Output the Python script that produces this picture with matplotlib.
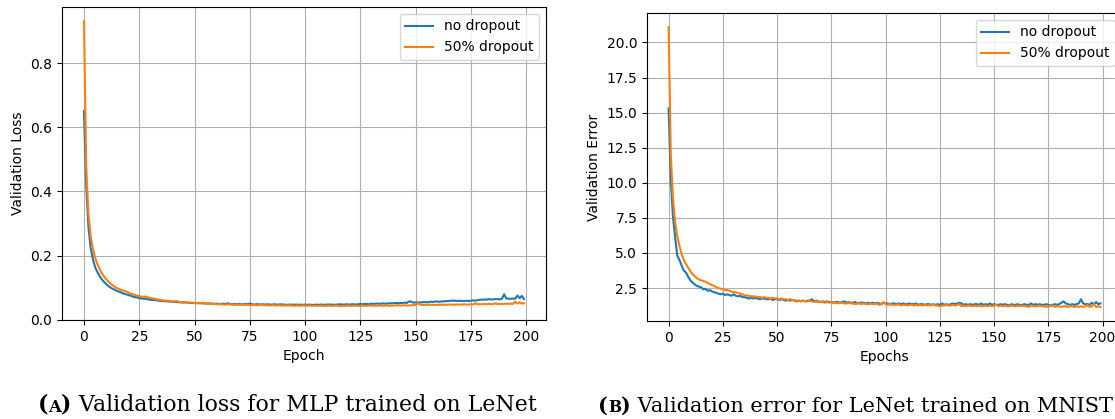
import matplotlib.pyplot as plt
from matplotlib.ticker import MultipleLocator
import numpy as np

# validation loss, MLP (left panel)
loss_plain = [
    0.650, 0.420, 0.290, 0.225, 0.190, 0.165, 0.150, 0.137, 0.127, 0.119,
    0.112, 0.106, 0.101, 0.097, 0.094, 0.090, 0.088, 0.085, 0.082, 0.080,
    0.078, 0.076, 0.073, 0.071, 0.070, 0.068, 0.067, 0.066, 0.066, 0.064,
    0.063, 0.062, 0.062, 0.061, 0.060, 0.059, 0.059, 0.058, 0.058, 0.057,
    0.057, 0.056, 0.056, 0.055, 0.055, 0.054, 0.055, 0.054, 0.053, 0.053,
    0.053, 0.052, 0.053, 0.052, 0.052, 0.051, 0.052, 0.051, 0.051, 0.050,
    0.051, 0.050, 0.050, 0.051, 0.050, 0.052, 0.050, 0.049, 0.050, 0.049,
    0.050, 0.049, 0.049, 0.050, 0.049, 0.051, 0.049, 0.048, 0.049, 0.049,
    0.048, 0.049, 0.048, 0.049, 0.048, 0.048, 0.049, 0.048, 0.048, 0.049,
    0.048, 0.048, 0.047, 0.048, 0.048, 0.047, 0.048, 0.047, 0.048, 0.047,
    0.048, 0.047, 0.048, 0.047, 0.047, 0.048, 0.047, 0.048, 0.048, 0.047,
    0.048, 0.048, 0.048, 0.047, 0.048, 0.048, 0.049, 0.048, 0.048, 0.049,
    0.048, 0.049, 0.049, 0.048, 0.049, 0.050, 0.049, 0.050, 0.050, 0.049,
    0.051, 0.050, 0.051, 0.051, 0.050, 0.052, 0.051, 0.051, 0.052, 0.052,
    0.052, 0.053, 0.052, 0.053, 0.053, 0.054, 0.053, 0.058, 0.057, 0.054,
    0.055, 0.054, 0.055, 0.055, 0.056, 0.055, 0.056, 0.057, 0.056, 0.058,
    0.057, 0.057, 0.058, 0.058, 0.059, 0.059, 0.060, 0.060, 0.060, 0.059,
    0.060, 0.059, 0.059, 0.060, 0.059, 0.060, 0.061, 0.060, 0.062, 0.063,
    0.063, 0.064, 0.063, 0.065, 0.064, 0.064, 0.065, 0.065, 0.064, 0.066,
    0.080, 0.067, 0.066, 0.066, 0.067, 0.066, 0.076, 0.068, 0.075, 0.065,
]
loss_dropout = [
    0.930, 0.480, 0.330, 0.262, 0.222, 0.195, 0.175, 0.160, 0.146, 0.136,
    0.127, 0.120, 0.113, 0.108, 0.103, 0.099, 0.096, 0.093, 0.091, 0.089,
    0.086, 0.082, 0.080, 0.078, 0.076, 0.074, 0.073, 0.072, 0.073, 0.070,
    0.069, 0.067, 0.066, 0.064, 0.063, 0.062, 0.061, 0.060, 0.060, 0.059,
    0.058, 0.058, 0.059, 0.056, 0.056, 0.055, 0.055, 0.054, 0.054, 0.054,
    0.053, 0.053, 0.052, 0.052, 0.054, 0.051, 0.051, 0.050, 0.050, 0.050,
    0.049, 0.049, 0.049, 0.048, 0.048, 0.049, 0.048, 0.048, 0.047, 0.048,
    0.047, 0.047, 0.048, 0.047, 0.047, 0.046, 0.046, 0.047, 0.046, 0.046,
    0.048, 0.046, 0.046, 0.046, 0.045, 0.046, 0.046, 0.045, 0.046, 0.045,
    0.045, 0.045, 0.046, 0.045, 0.045, 0.044, 0.045, 0.045, 0.044, 0.045,
    0.045, 0.044, 0.045, 0.044, 0.045, 0.044, 0.044, 0.045, 0.044, 0.044,
    0.044, 0.045, 0.044, 0.044, 0.045, 0.044, 0.043, 0.044, 0.044, 0.045,
    0.044, 0.044, 0.045, 0.044, 0.044, 0.044, 0.045, 0.044, 0.044, 0.045,
    0.044, 0.045, 0.044, 0.045, 0.045, 0.044, 0.045, 0.045, 0.044, 0.045,
    0.045, 0.045, 0.046, 0.045, 0.045, 0.046, 0.045, 0.045, 0.046, 0.046,
    0.047, 0.052, 0.048, 0.047, 0.047, 0.047, 0.048, 0.047, 0.047, 0.047,
    0.047, 0.048, 0.047, 0.048, 0.047, 0.048, 0.048, 0.047, 0.048, 0.048,
    0.048, 0.048, 0.049, 0.048, 0.048, 0.049, 0.048, 0.052, 0.049, 0.049,
    0.049, 0.050, 0.049, 0.050, 0.050, 0.049, 0.052, 0.050, 0.050, 0.050,
    0.050, 0.051, 0.050, 0.051, 0.050, 0.057, 0.051, 0.055, 0.051, 0.052,
]

# validation error (%), LeNet on MNIST (right panel)
err_plain = [
    15.3, 10.2, 7.6, 6.1, 4.8, 4.5, 4.1, 3.75, 3.6, 3.3,
    3.05, 2.9, 2.75, 2.65, 2.6, 2.55, 2.4, 2.45, 2.3, 2.35,
    2.25, 2.2, 2.15, 2.1, 2.05, 2.1, 2.0, 2.05, 2.0, 1.95,
    2.05, 1.95, 1.9, 1.95, 1.85, 1.85, 1.8, 1.75, 1.8, 1.75,
    1.8, 1.75, 1.7, 1.75, 1.75, 1.7, 1.7, 1.75, 1.65, 1.7,
    1.7, 1.65, 1.7, 1.65, 1.6, 1.65, 1.6, 1.65, 1.6, 1.55,
    1.6, 1.55, 1.6, 1.55, 1.6, 1.6, 1.7, 1.55, 1.6, 1.55,
    1.5, 1.55, 1.5, 1.55, 1.5, 1.5, 1.45, 1.5, 1.5, 1.45,
    1.5, 1.55, 1.45, 1.5, 1.45, 1.45, 1.5, 1.4, 1.45, 1.45,
    1.45, 1.4, 1.45, 1.4, 1.45, 1.4, 1.45, 1.4, 1.35, 1.45,
    1.4, 1.4, 1.35, 1.4, 1.4, 1.35, 1.4, 1.35, 1.4, 1.35,
    1.35, 1.4, 1.35, 1.35, 1.4, 1.3, 1.35, 1.35, 1.3, 1.35,
    1.35, 1.3, 1.35, 1.3, 1.35, 1.3, 1.4, 1.3, 1.35, 1.3,
    1.35, 1.4, 1.35, 1.4, 1.45, 1.4, 1.3, 1.35, 1.3, 1.35,
    1.3, 1.35, 1.35, 1.3, 1.4, 1.3, 1.35, 1.3, 1.4, 1.3,
    1.35, 1.3, 1.3, 1.35, 1.3, 1.35, 1.3, 1.25, 1.35, 1.3,
    1.3, 1.35, 1.25, 1.3, 1.35, 1.3, 1.3, 1.4, 1.3, 1.35,
    1.3, 1.35, 1.3, 1.3, 1.35, 1.3, 1.25, 1.3, 1.35, 1.3,
    1.35, 1.45, 1.55, 1.4, 1.35, 1.3, 1.35, 1.3, 1.35, 1.4,
    1.7, 1.4, 1.35, 1.35, 1.3, 1.45, 1.35, 1.5, 1.35, 1.4,
]
err_dropout = [
    21.1, 12.0, 8.9, 7.2, 6.2, 5.5, 4.9, 4.5, 4.2, 3.95,
    3.7, 3.5, 3.35, 3.2, 3.1, 3.05, 3.0, 2.95, 2.85, 2.8,
    2.7, 2.65, 2.55, 2.5, 2.45, 2.4, 2.35, 2.35, 2.3, 2.25,
    2.2, 2.2, 2.15, 2.1, 2.05, 2.0, 1.95, 1.95, 1.9, 1.9,
    1.9, 1.85, 1.85, 1.8, 1.85, 1.8, 1.8, 1.75, 1.8, 1.75,
    1.75, 1.7, 1.75, 1.7, 1.7, 1.65, 1.7, 1.65, 1.6, 1.6,
    1.6, 1.55, 1.6, 1.55, 1.55, 1.6, 1.55, 1.5, 1.55, 1.5,
    1.5, 1.5, 1.45, 1.5, 1.45, 1.5, 1.45, 1.45, 1.4, 1.45,
    1.45, 1.4, 1.4, 1.45, 1.4, 1.4, 1.35, 1.4, 1.4, 1.35,
    1.4, 1.35, 1.35, 1.4, 1.35, 1.35, 1.4, 1.3, 1.35, 1.5,
    1.35, 1.3, 1.35, 1.3, 1.3, 1.3, 1.35, 1.25, 1.3, 1.3,
    1.25, 1.3, 1.3, 1.25, 1.3, 1.25, 1.3, 1.25, 1.3, 1.25,
    1.3, 1.25, 1.35, 1.25, 1.25, 1.2, 1.25, 1.25, 1.3, 1.25,
    1.25, 1.3, 1.25, 1.3, 1.35, 1.2, 1.25, 1.2, 1.25, 1.25,
    1.2, 1.25, 1.2, 1.25, 1.2, 1.2, 1.25, 1.2, 1.25, 1.2,
    1.25, 1.3, 1.2, 1.25, 1.2, 1.25, 1.2, 1.2, 1.25, 1.2,
    1.2, 1.25, 1.2, 1.25, 1.2, 1.2, 1.15, 1.25, 1.2, 1.2,
    1.2, 1.25, 1.2, 1.2, 1.15, 1.2, 1.2, 1.25, 1.15, 1.2,
    1.2, 1.15, 1.2, 1.2, 1.15, 1.2, 1.2, 1.15, 1.2, 1.15,
    1.2, 1.15, 1.2, 1.3, 1.15, 1.2, 1.35, 1.15, 1.2, 1.15,
]

series_labels = ["no dropout", "50% dropout"]
captions = [("A", " Validation loss for MLP trained on LeNet"),
            ("B", " Validation error for LeNet trained on MNIST")]

fig = plt.figure(figsize=(11.15, 4.19), dpi=100)
ax1 = fig.add_axes([0.0556, 0.2363, 0.4341, 0.7470])
ax2 = fig.add_axes([0.5803, 0.2340, 0.4260, 0.7350])

epochs = np.arange(len(loss_plain))
ax1.plot(epochs, loss_plain, label=series_labels[0])
ax1.plot(epochs, loss_dropout, label=series_labels[1])
ax1.set_ylim(bottom=0)
ax1.yaxis.set_major_locator(MultipleLocator(0.2))
ax1.set_xlabel("Epoch")
ax1.set_ylabel("Validation Loss")

ax2.plot(epochs, err_plain, label=series_labels[0])
ax2.plot(epochs, err_dropout, label=series_labels[1])
ax2.yaxis.set_major_locator(MultipleLocator(2.5))
ax2.set_xlabel("Epochs")
ax2.set_ylabel("Validation Error")

for ax in (ax1, ax2):
    ax.xaxis.set_major_locator(MultipleLocator(25))
    ax.grid(True)
    ax.legend(loc="upper right")

# captions with a small-caps letter in the label
fig.canvas.draw()
sizes = [15.8, 15]
for (letter, rest), x0, fs in zip(captions, [38 / 1115, 598 / 1115], sizes):
    serif = dict(family="DejaVu Serif", fontsize=fs)
    t1 = fig.text(x0, 0.008, "(", weight="bold", va="bottom", **serif)
    t2 = plt.annotate(letter, xy=(1, 0), xycoords=t1, va="bottom", ha="left",
                      family="DejaVu Serif", fontsize=fs * 0.75, weight="bold")
    t3 = plt.annotate(")", xy=(1, 0), xycoords=t2, va="bottom", ha="left",
                      weight="bold", **serif)
    plt.annotate(rest, xy=(1, 0), xycoords=t3, va="bottom", ha="left", **serif)

fig.savefig("out.png", dpi=100)
